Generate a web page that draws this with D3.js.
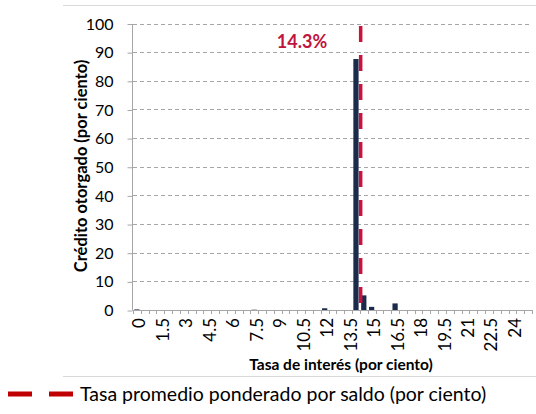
<!DOCTYPE html>
<html>
<head>
<meta charset="utf-8">
<script src="https://cdn.jsdelivr.net/npm/d3@7"></script>
<style>
  html, body { margin: 0; padding: 0; background: #ffffff; }
  svg { display: block; font-family: Lato, "Open Sans", sans-serif; }
</style>
</head>
<body>
<svg id="chart" width="536" height="414"></svg>
<script>
// Interest-rate buckets (percent), one every half point
const rates = ["0","0.5","1","1.5","2","2.5","3","3.5","4","4.5","5","5.5","6","6.5","7","7.5",
  "8","8.5","9","9.5","10","10.5","11","11.5","12","12.5","13","13.5","14","14.5","15","15.5",
  "16","16.5","17","17.5","18","18.5","19","19.5","20","20.5","21","21.5","22","22.5","23",
  "23.5","24","24.5","25"];
// Share of credit granted in each bucket (percent)
const shares = [0.2,0,0,0,0,0,0,0,0,0,0,0,0,0,0,0.1,
  0,0,0,0,0,0,0,0,0.6,0,0,0,87.6,5.1,1.1,0,
  0,2.3,0,0,0,0,0,0,0,0,0,0,0,0,0,
  0,0,0,0];
// Rate labels printed along the axis
const tickLabels = ["0","1.5","3","4.5","6","7.5","9","10.5","12","13.5","15","16.5","18","19.5","21","22.5","24"];
const yTicks = [0,10,20,30,40,50,60,70,80,90,100];
// Balance-weighted average rate
const avgRate = 14.3;
const avgLabel = "14.3%";
const legendText = "Tasa promedio ponderado por saldo (por ciento)";
const xTitle = "Tasa de interés (por ciento)";
const yTitle = "Crédito otorgado (por ciento)";

const svg = d3.select("#chart");
const plotLeft = 133, plotRight = 532, plotTop = 23.5, plotBottom = 310;

const x = d3.scaleBand().domain(rates).range([plotLeft, plotRight])
  .paddingInner(0.33).paddingOuter(0.165);
const y = d3.scaleLinear().domain([0, 100]).range([plotBottom, plotTop]);
const center = r => x(r) + x.bandwidth() / 2;
const xRate = d3.scaleLinear().domain([0, 25]).range([center("0"), center("25")]);

// outer frame lines
svg.append("line").attr("x1", 63).attr("x2", 536).attr("y1", 5.5).attr("y2", 5.5)
  .attr("stroke", "#d9d9d9").attr("stroke-width", 1);
svg.append("line").attr("x1", 63).attr("x2", 536).attr("y1", 376.5).attr("y2", 376.5)
  .attr("stroke", "#d9d9d9").attr("stroke-width", 1);

// horizontal gridlines
svg.append("g").selectAll("line").data(yTicks.filter(d => d > 0)).join("line")
  .attr("x1", plotLeft).attr("x2", plotRight)
  .attr("y1", d => Math.round(y(d)) + 0.5).attr("y2", d => Math.round(y(d)) + 0.5)
  .attr("stroke", "#a6a6a6").attr("stroke-width", 1).attr("stroke-dasharray", "4,3");

// bars
svg.append("g").selectAll("rect").data(rates.map((r, i) => ({r, v: shares[i]})).filter(d => d.v > 0))
  .join("rect")
  .attr("x", d => x(d.r)).attr("width", x.bandwidth())
  .attr("y", d => y(d.v)).attr("height", d => y(0) - y(d.v))
  .attr("fill", "#1b2b4b");

// y axis
const yAxis = d3.axisLeft(y).tickValues(yTicks).tickSize(5).tickPadding(14);
const gy = svg.append("g").attr("transform", `translate(${plotLeft - 0.5},0.5)`).call(yAxis);
gy.select(".domain").attr("stroke", "#a6a6a6").attr("d", `M0,${plotTop}V${plotBottom}`);
gy.selectAll(".tick line").attr("stroke", "#a6a6a6");
gy.selectAll(".tick text").attr("font-size", 16).attr("fill", "#000").attr("font-family", "Lato");

// x axis: tick marks on bucket boundaries
const gx = svg.append("g");
gx.append("line").attr("x1", plotLeft).attr("x2", plotRight).attr("y1", plotBottom + 0.5).attr("y2", plotBottom + 0.5)
  .attr("stroke", "#a6a6a6");
const bounds = rates.map(r => x(r) - x.step() * x.paddingInner() / 2).concat([plotRight]);
gx.selectAll("line.tk").data(bounds).join("line").attr("class", "tk")
  .attr("x1", d => Math.round(d) + 0.5).attr("x2", d => Math.round(d) + 0.5)
  .attr("y1", plotBottom).attr("y2", plotBottom + 4).attr("stroke", "#a6a6a6");
gx.selectAll("text").data(tickLabels).join("text")
  .attr("transform", d => `translate(${center(d) + 8.5},${plotBottom + 8}) rotate(-90)`)
  .attr("text-anchor", "end").attr("font-size", 17).attr("fill", "#000")
  .text(d => d);

// average-rate marker
svg.append("line")
  .attr("x1", xRate(avgRate)).attr("x2", xRate(avgRate))
  .attr("y1", 26).attr("y2", plotBottom)
  .attr("stroke", "#c8143c").attr("stroke-width", 3.5).attr("stroke-dasharray", "16,13");
svg.append("text").attr("x", 302).attr("y", 48).attr("text-anchor", "middle")
  .attr("font-size", 18).attr("font-weight", "bold").attr("fill", "#c0143c").text(avgLabel);

// axis titles
svg.append("text").attr("x", 341).attr("y", 370).attr("text-anchor", "middle")
  .attr("font-size", 15.5).attr("font-weight", "bold").attr("fill", "#000").text(xTitle);
svg.append("text").attr("transform", `translate(87,166) rotate(-90)`).attr("text-anchor", "middle")
  .attr("font-size", 16.5).attr("font-weight", "bold").attr("fill", "#000").text(yTitle);

// legend
svg.append("line").attr("x1", 8).attr("x2", 73).attr("y1", 394).attr("y2", 394)
  .attr("stroke", "#c00000").attr("stroke-width", 5).attr("stroke-dasharray", "24,17");
svg.append("text").attr("x", 80).attr("y", 401).attr("font-size", 19.5).attr("fill", "#000")
  .text(legendText);
</script>
</body>
</html>
